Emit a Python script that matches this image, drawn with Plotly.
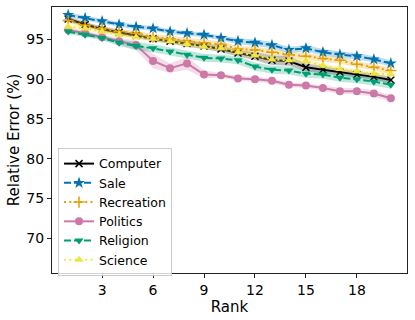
import plotly.graph_objects as go

rank = list(range(1, 21))

computer = [97.6, 96.9, 96.3, 95.9, 95.5, 95.1, 94.8, 94.5, 94.2, 93.8,
            93.3, 92.9, 92.4, 92.3, 91.5, 91.2, 90.9, 90.6, 90.3, 89.9]
sale = [98.1, 97.7, 97.3, 96.9, 96.6, 96.4, 96.0, 95.8, 95.6, 95.2,
        94.8, 94.6, 94.3, 93.7, 93.9, 93.4, 93.1, 92.9, 92.5, 92.0]
recreation = [97.4, 96.8, 96.4, 96.0, 95.8, 95.3, 95.1, 94.8, 94.6, 94.4,
              93.8, 93.7, 93.4, 93.1, 92.9, 92.6, 92.4, 91.9, 91.5, 91.1]
politics = [96.2, 95.8, 95.3, 94.8, 94.3, 92.3, 91.4, 92.0, 90.6, 90.5,
            90.1, 90.0, 89.8, 89.3, 89.2, 88.9, 88.5, 88.5, 88.2, 87.6]
religion = [96.0, 95.6, 95.2, 94.6, 94.2, 93.9, 93.5, 93.1, 92.7, 92.6,
            92.4, 91.6, 91.2, 91.1, 90.7, 90.6, 90.2, 90.0, 89.7, 89.3]
science = [96.6, 96.4, 96.0, 95.6, 95.3, 95.1, 94.8, 94.4, 94.1, 93.9,
           93.4, 93.0, 92.5, 92.4, 92.3, 91.7, 91.3, 91.0, 90.7, 90.6]

# spread (std) used for the shaded bands
computer_std = [0.3, 0.3, 0.3, 0.3, 0.3, 0.3, 0.3, 0.4, 0.4, 0.4,
                0.4, 0.5, 0.6, 0.6, 0.5, 0.5, 0.4, 0.4, 0.4, 0.4]
sale_std = [0.3, 0.3, 0.3, 0.3, 0.3, 0.3, 0.3, 0.3, 0.3, 0.3,
            0.4, 0.4, 0.4, 0.4, 0.4, 0.4, 0.4, 0.4, 0.4, 0.4]
recreation_std = [0.3, 0.3, 0.3, 0.3, 0.3, 0.4, 0.4, 0.4, 0.4, 0.4,
                  0.4, 0.4, 0.4, 0.4, 0.4, 0.4, 0.4, 0.4, 0.4, 0.4]
politics_std = [0.3, 0.3, 0.3, 0.4, 0.6, 0.9, 0.6, 0.8, 0.5, 0.3,
                0.3, 0.3, 0.3, 0.3, 0.3, 0.3, 0.4, 0.4, 0.4, 0.4]
religion_std = [0.3, 0.3, 0.3, 0.4, 0.5, 0.5, 0.5, 0.5, 0.5, 0.5,
                0.5, 0.5, 0.5, 0.5, 0.5, 0.5, 0.5, 0.5, 0.5, 0.5]
science_std = [0.3, 0.3, 0.3, 0.3, 0.3, 0.3, 0.3, 0.3, 0.3, 0.3,
               0.3, 0.3, 0.3, 0.3, 0.3, 0.3, 0.3, 0.3, 0.3, 0.3]

xticks = [3, 6, 9, 12, 15, 18]
yticks = [70, 75, 80, 85, 90, 95]

series = [
    ("Computer", computer, computer_std, "#000000", "0,0,0", "solid", "x-thin", 7),
    ("Sale", sale, sale_std, "#0072B2", "0,114,178", "7px,3px", "star", 9),
    ("Recreation", recreation, recreation_std, "#E69F00", "230,159,0", "2px,3.3px", "cross-thin", 8),
    ("Politics", politics, politics_std, "#CC79A7", "204,121,167", "solid", "circle", 8),
    ("Religion", religion, religion_std, "#009E73", "0,158,115", "7px,3px", "triangle-down", 8),
    ("Science", science, science_std, "#F0E442", "240,228,66", "2px,3.3px", "triangle-up", 8),
]

fig = go.Figure()

for name, vals, std, color, rgb, dash, sym, msize in series:
    upper = [v + s for v, s in zip(vals, std)]
    lower = [v - s for v, s in zip(vals, std)]
    fig.add_trace(go.Scatter(x=rank + rank[::-1], y=upper + lower[::-1],
                             fill="toself", fillcolor=f"rgba({rgb},0.25)",
                             line=dict(width=0), hoverinfo="skip", showlegend=False))
    thin = sym.endswith("-thin")
    fig.add_trace(go.Scatter(x=rank, y=vals, mode="lines+markers", name=name,
                             line=dict(color=color, width=2, dash=dash),
                             marker=dict(symbol=sym, size=msize, color=color,
                                         line=dict(color=color, width=1.5 if thin else 0))))

axis_common = dict(showline=True, mirror=True, linecolor="#222222", linewidth=1,
                   ticks="outside", ticklen=4, tickcolor="#222222",
                   showgrid=False, zeroline=False,
                   tickfont=dict(size=14, color="black"))

fig.update_layout(
    width=415, height=320,
    margin=dict(l=52, r=8, t=7, b=47),
    plot_bgcolor="white", paper_bgcolor="white",
    font=dict(family="DejaVu Sans", color="black"),
    xaxis=dict(range=[0.05, 20.95], tickvals=xticks,
               title=dict(text="Rank", font=dict(size=15), standoff=2), **axis_common),
    yaxis=dict(range=[65.6, 99.1], tickvals=yticks,
               title=dict(text="Relative Error (%)", font=dict(size=15), standoff=3), **axis_common),
    legend=dict(x=0.017, y=0.47, xanchor="left", yanchor="top",
                bgcolor="rgba(255,255,255,0.8)", bordercolor="#cccccc", borderwidth=1,
                font=dict(size=12.5), tracegroupgap=0, itemwidth=30),
)

# drop the default page margin so the figure sits at the window origin
fig.write_html("out.html", config={"displayModeBar": False},
               post_script="document.body.style.margin='0';")
